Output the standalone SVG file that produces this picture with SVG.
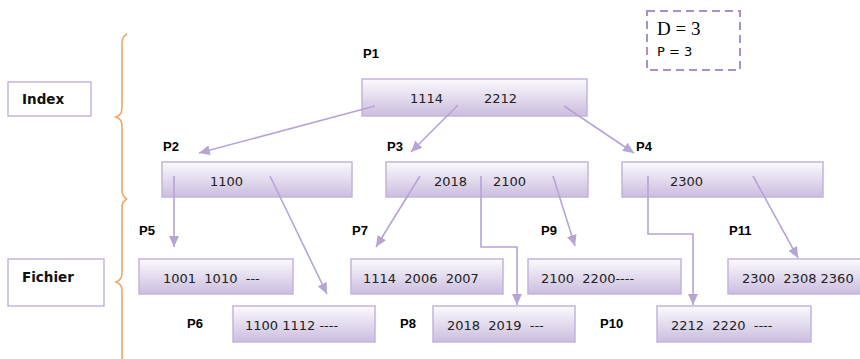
<svg xmlns="http://www.w3.org/2000/svg" width="860" height="359" viewBox="0 0 860 359">
<defs>
<linearGradient id="g" x1="0" y1="0" x2="0" y2="1">
<stop offset="0" stop-color="#fbfafd"/>
<stop offset="1" stop-color="#cbbddf"/>
</linearGradient>
<marker id="ah" markerUnits="userSpaceOnUse" markerWidth="12" markerHeight="10" refX="11" refY="5" orient="auto">
<path d="M0,0 L11,5 L0,10 Z" fill="#b6a4d4"/>
</marker>
<style>
.n{fill:url(#g);stroke:#c3b4dc;stroke-width:1.5}
.t{font-family:"DejaVu Sans",Verdana,sans-serif;font-size:13px;fill:#222;white-space:pre}
.l{font-family:"Liberation Sans",Arial,sans-serif;font-size:13px;font-weight:bold;fill:#000}
.b{font-family:"DejaVu Sans",Verdana,sans-serif;font-size:13.5px;font-weight:bold;fill:#111}
.c{fill:none;stroke:#b6a4d4;stroke-width:1.6;marker-end:url(#ah)}
.br{fill:none;stroke:#f2a56a;stroke-width:1.6}
</style>
</defs>

<g id="legend-index"><rect x="8" y="82" width="83" height="34" fill="#fff" stroke="#c3b4dc" stroke-width="1.5"/><text class="b" x="22" y="104">Index</text></g>
<g id="legend-fichier"><rect x="8" y="259" width="96" height="47" fill="#fff" stroke="#c3b4dc" stroke-width="1.5"/><text class="b" x="22" y="282">Fichier</text></g>

<g id="braces">
<path class="br" d="M127,34 Q122,36 122,44 L122,108 Q122,115 116,117 Q122,119 122,126 L122,190 Q122,197 127,199"/>
<path class="br" d="M127,199 Q122,201 122,208 L122,273 Q122,280 116,282 Q122,284 122,291 L122,359"/>
</g>

<g id="params">
<rect x="647" y="11" width="93" height="59" fill="none" stroke="#a890c8" stroke-width="2" stroke-dasharray="8,5"/>
<text x="657" y="35" font-family="'Liberation Serif','Times New Roman',serif" font-size="19" fill="#000">D = 3</text>
<text x="657" y="56" font-family="'DejaVu Sans',Verdana,sans-serif" font-size="13" fill="#000">P = 3</text>
</g>

<g id="P1"><text class="l" x="363" y="58">P1</text><rect class="n" x="362" y="79" width="225" height="37"/><text class="t" x="410" y="103">1114</text><text class="t" x="484" y="103">2212</text></g>
<g id="P2"><text class="l" x="163" y="151">P2</text><rect class="n" x="162" y="162" width="190" height="35"/><text class="t" x="210" y="186">1100</text></g>
<g id="P3"><text class="l" x="387" y="151">P3</text><rect class="n" x="386" y="162" width="202" height="35"/><text class="t" x="434" y="186">2018</text><text class="t" x="493" y="186">2100</text></g>
<g id="P4"><text class="l" x="636" y="151">P4</text><rect class="n" x="622" y="162" width="201" height="35"/><text class="t" x="670" y="186">2300</text></g>

<g id="P5"><text class="l" x="139" y="235">P5</text><rect class="n" x="139" y="259" width="154" height="35"/><text class="t" x="163" y="283">1001  1010  ---</text></g>
<g id="P6"><text class="l" x="187" y="328">P6</text><rect class="n" x="233" y="306" width="142" height="36"/><text class="t" x="245" y="330">1100 1112 ----</text></g>
<g id="P7"><text class="l" x="352" y="235">P7</text><rect class="n" x="351" y="259" width="152" height="35"/><text class="t" x="363" y="283">1114  2006  2007</text></g>
<g id="P8"><text class="l" x="400" y="328">P8</text><rect class="n" x="433" y="306" width="142" height="36"/><text class="t" x="447" y="330">2018  2019  ---</text></g>
<g id="P9"><text class="l" x="541" y="235">P9</text><rect class="n" x="528" y="259" width="153" height="35"/><text class="t" x="541" y="283">2100  2200----</text></g>
<g id="P10"><text class="l" x="600" y="328">P10</text><rect class="n" x="657" y="306" width="154" height="36"/><text class="t" x="671" y="330">2212  2220  ----</text></g>
<g id="P11"><text class="l" x="729" y="235">P11</text><rect class="n" x="728" y="259" width="140" height="35"/><text class="t" x="742" y="283">2300  2308 2360</text></g>

<g id="connectors">
<path class="c" d="M375,106 L199,153"/>
<path class="c" d="M458,105 L411,152"/>
<path class="c" d="M564,106 L634,153"/>
<path class="c" d="M174,176 L174,247"/>
<path class="c" d="M270,176 L327,294"/>
<path class="c" d="M420,176 L376,247"/>
<path class="c" d="M481,176 L481,247 L517,247 L517,305"/>
<path class="c" d="M553,176 L575,246"/>
<path class="c" d="M648,176 L648,234 L693,234 L693,305"/>
<path class="c" d="M753,176 L798,258"/>
</g>
</svg>
